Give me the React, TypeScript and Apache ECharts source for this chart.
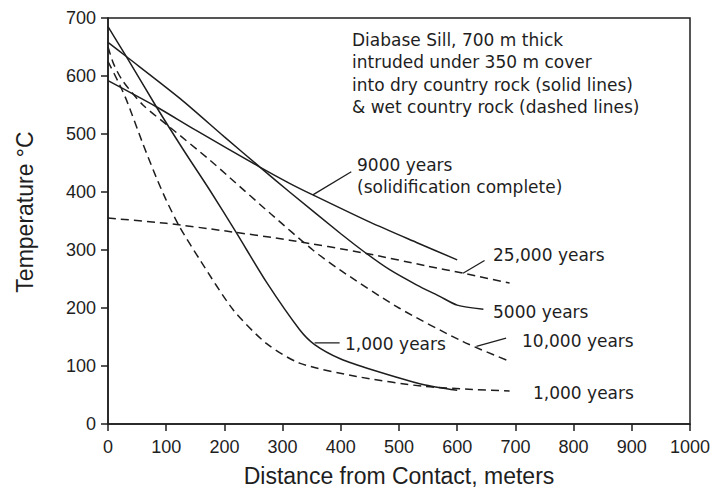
import React, { useEffect, useRef } from "react";
import * as echarts from "echarts";

// Distance from contact (m) and temperature (°C) for each curve
const dry1000X = [0, 30, 83, 130, 175, 221, 272, 329, 355, 400, 455, 541, 600];
const dry1000T = [685, 636, 547, 472, 403, 329, 245, 163, 137, 112, 93, 68, 58];

const dry5000X = [0, 31, 124, 200, 261, 312, 400, 444, 484, 530, 570, 600, 645];
const dry5000T = [658, 634, 561, 495, 443, 400, 328, 294, 266, 240, 220, 205, 198];

const dry9000X = [0, 83, 150, 261, 312, 352, 450, 530, 600];
const dry9000T = [592, 547, 507, 443, 415, 395, 348, 313, 283];

const wet1000X = [0, 20, 32, 60, 83, 100, 123, 158, 215, 272, 329, 427, 541, 620, 690];
const wet1000T = [625, 585, 558, 483, 425, 386, 340, 283, 197, 139, 105, 82, 65, 60, 57];

const wet10000X = [0, 10, 25, 60, 106, 175, 209, 280, 352, 398, 500, 610, 690];
const wet10000T = [650, 620, 592, 550, 512, 455, 425, 362, 300, 266, 200, 142, 108];

const wet25000X = [0, 100, 200, 312, 444, 550, 610, 690];
const wet25000T = [355, 346, 333, 317, 294, 272, 260, 243];

// leader lines from curves to their labels (data coordinates)
const leader9000 = [[352, 395], [418, 435]];
const leaderDry1000 = [[355, 140], [398, 140]];
const leader10000 = [[633, 134], [684, 148]];
const leader25000 = [[610, 260], [647, 282]];

const xTicks = { min: 0, max: 1000, interval: 100 };
const yTicks = { min: 0, max: 700, interval: 100 };

const noteLines = [
  "Diabase Sill, 700 m thick",
  "intruded under 350 m cover",
  "into dry country rock (solid lines)",
  "& wet country rock (dashed lines)",
];

const zip = (xs: number[], ys: number[]) => xs.map((x, i) => [x, ys[i]]);

const INK = "#1e1e1e";

export default function App() {
  const ref = useRef<HTMLDivElement>(null);
  useEffect(() => {
    if (!ref.current) return;
    const chart = echarts.init(ref.current, undefined, { renderer: "svg" });
    const curve = (name: string, data: number[][], dashed: boolean) => ({
      name,
      type: "line",
      data,
      smooth: 0.25,
      symbol: "none",
      silent: true,
      lineStyle: {
        color: INK,
        width: 1.5,
        type: dashed ? [8, 5] : "solid",
      },
    });
    const leader = (name: string, data: number[][]) => ({
      name,
      type: "line",
      data,
      symbol: "none",
      silent: true,
      lineStyle: { color: INK, width: 1.3 },
    });
    const noteFont = { fontFamily: "DejaVu Sans", fontSize: 17, fill: INK };
    const label = (text: string, x: number, y: number) => ({
      type: "text",
      x,
      y,
      style: { text, ...noteFont, verticalAlign: "middle" },
    });
    chart.setOption({
      animation: false,
      backgroundColor: "#ffffff",
      grid: {
        left: 108,
        right: 31,
        top: 18,
        bottom: 67,
        containLabel: false,
        outerBoundsMode: "none",
        show: true,
        borderColor: INK,
        borderWidth: 1.5,
      },
      xAxis: {
        type: "value",
        ...xTicks,
        name: "Distance from Contact, meters",
        nameLocation: "middle",
        nameGap: 40,
        nameTextStyle: { fontFamily: "Liberation Sans", fontSize: 23, color: INK },
        axisLine: { show: true, lineStyle: { color: INK, width: 1.5 } },
        axisTick: { show: true, length: 7, lineStyle: { color: INK, width: 1.5 } },
        axisLabel: {
          fontFamily: "Liberation Sans",
          fontSize: 18,
          color: INK,
          margin: 14,
          formatter: (v: number) => String(v),
        },
        splitLine: { show: false },
      },
      yAxis: {
        type: "value",
        ...yTicks,
        name: "Temperature °C",
        nameLocation: "middle",
        nameGap: 72,
        nameTextStyle: { fontFamily: "Liberation Sans", fontSize: 23, color: INK, padding: [0, 0, 0, 18] },
        axisLine: { show: true, lineStyle: { color: INK, width: 1.5 } },
        axisTick: { show: true, length: 7, lineStyle: { color: INK, width: 1.5 } },
        axisLabel: {
          fontFamily: "Liberation Sans",
          fontSize: 18,
          color: INK,
          margin: 12,
          formatter: (v: number) => String(v),
        },
        splitLine: { show: false },
      },
      series: [
        curve("Dry 1,000 years", zip(dry1000X, dry1000T), false),
        curve("Dry 5000 years", zip(dry5000X, dry5000T), false),
        curve("Dry 9000 years", zip(dry9000X, dry9000T), false),
        curve("Wet 1,000 years", zip(wet1000X, wet1000T), true),
        curve("Wet 10,000 years", zip(wet10000X, wet10000T), true),
        curve("Wet 25,000 years", zip(wet25000X, wet25000T), true),
        leader("leader 9000", leader9000),
        leader("leader dry 1000", leaderDry1000),
        leader("leader 10000", leader10000),
        leader("leader 25000", leader25000),
      ],
      graphic: [
        ...noteLines.map((t, i) => label(t, 352, 40 + i * 22.3)),
        label("9000 years", 357, 165),
        label("(solidification complete)", 357, 187),
        label("25,000 years", 493, 255),
        label("5000 years", 493, 312),
        label("10,000 years", 522, 341),
        label("1,000 years", 345, 344),
        label("1,000 years", 533, 393),
      ],
    });
    return () => chart.dispose();
  }, []);
  return (
    <div
      ref={ref}
      style={{ position: "fixed", left: 0, top: 0, width: 721, height: 491 }}
    />
  );
}
